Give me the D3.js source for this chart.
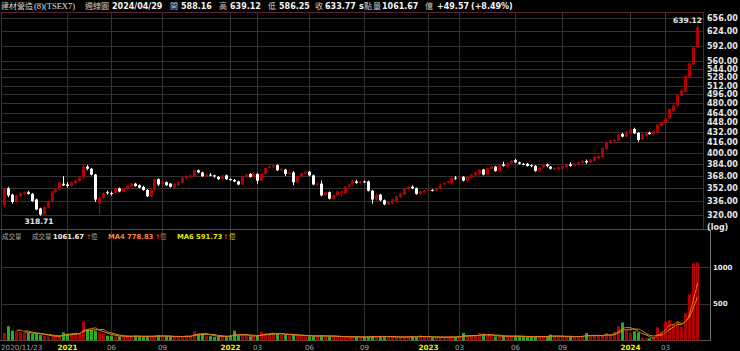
<!DOCTYPE html>
<html>
<head>
<meta charset="utf-8">
<script src="https://cdn.jsdelivr.net/npm/d3@7"></script>
<style>
html, body { margin: 0; padding: 0; background: #000; }
svg { display: block; }
</style>
</head>
<body>
<svg id="chart" width="740" height="351"></svg>
<script>
// weekly candles [open, high, low, close], 2020/11/23 .. 2024/04/29
const ohlc = [
  [331,353,328,351],[352,354,341,343],[344,345,333,335],[335,344,334,343],[342,347,341,346],
  [345,348,344,347],[347,349,344,345],[345,346,335,336],[338,339,325,326],[327,328,318.71,320],
  [320,330,319,329],[328,337,327,336],[336,349,335,348],[347,352,346,351],[350,361,349,360],
  [358,368,355,356],[357,360,353,355],[355,361,354,360],[359,363,358,362],[362,367,361,366],
  [366,384,365,381],[381,383,376,378],[378,379,369,370],[370,371,335,338],[333,342,320,340],
  [340,347,338,346],[347,349,344,346],[346,348,343,345],[346,353,345,352],[352,353,347,348],
  [348,353,347,352],[351,356,350,355],[354,359,353,358],[358,359,354,355],[356,357,352,353],
  [354,355,349,350],[350,351,341,342],[342,351,341,350],[350,365,349,364],[364,365,355,357],
  [357,362,356,361],[360,361,355,356],[358,359,353,354],[353,359,352,358],[356,361,355,360],
  [359,367,358,366],[365,369,364,368],[367,370,366,369],[368,377,367,376],[376,377,372,373],
  [373,374,367,368],[368,371,367,370],[370,372,368,369],[369,370,366,368],[367,368,363,364],
  [364,370,363,369],[369,370,363,364],[364,365,362,363],[363,364,360,361],[361,362,356,357],
  [357,368,356,367],[367,371,366,370],[371,372,366,367],[367,373,366,372],[371,372,358,362],
  [362,372,361,371],[371,380,370,379],[379,382,378,381],[380,385,379,383],[383,384,375,376],
  [376,379,375,378],[377,378,368,371],[371,374,370,373],[373,375,356,360],[360,369,359,368],
  [368,373,367,372],[371,375,370,374],[374,375,368,369],[369,370,356,357],[357,360,355,358],
  [358,362,342,343],[343,348,342,347],[347,348,338,339],[339,344,338,343],[343,349,342,348],
  [346,349,342,348],[346,355,345,354],[354,358,353,357],[357,363,356,362],[361,363,358,359],
  [359,362,358,361],[361,362,359,360],[361,362,348,349],[349,350,333,338],[338,345,337,344],
  [344,345,336,337],[337,338,331,332],[332,336,331,335],[333,339,332,338],[336,343,335,342],
  [341,346,340,345],[344,352,343,351],[351,355,350,354],[354,356,351,352],[352,353,344,345],
  [345,349,344,348],[347,350,346,349],[349,351,348,350],[350,351,348,349],[349,353,348,352],
  [352,358,351,357],[357,360,356,359],[359,362,358,361],[359,367,358,366],[366,368,363,365],
  [365,368,364,367],[367,368,361,362],[362,368,361,367],[366,371,365,370],[369,374,368,373],
  [371,378,370,377],[377,378,369,370],[370,380,369,379],[378,382,377,381],[381,382,374,375],
  [375,384,374,383],[384,388,381,382],[381,387,380,386],[386,390,385,389],[390,392,386,387],
  [387,388,384,385],[385,386,383,384],[385,386,381,382],[383,384,380,382],[382,383,374,375],
  [375,381,374,380],[380,385,379,384],[384,385,380,382],[381,382,377,378],[377,380,376,379],
  [377,381,376,380],[378,383,377,382],[380,385,379,384],[384,387,381,382],[382,386,381,385],
  [384,388,383,387],[386,390,385,389],[389,391,385,387],[387,392,386,391],[389,396,388,395],
  [393,397,392,396],[394,409,393,408],[406,418,405,417],[415,420,414,419],[418,421,416,420],
  [419,429,418,428],[429,431,424,425],[425,434,424,433],[429,438,428,437],[437,439,429,430],
  [431,432,417,420],[421,430,420,429],[426,432,425,431],[431,433,428,429],[429,435,428,434],
  [431,445,430,444],[442,449,441,448],[446,455,445,454],[454,471,453,470],[467,478,466,476],
  [475,496,474,495],[493,505,492,503],[500,531,499,530],[528,556,527,555],[553,590,552,588],
  [588.16,639.12,586.25,633.77]
];

// weekly volume (億)
const volumes = [
  102,195,134,125,111,102,102,93,93,79,
  65,56,56,56,65,111,93,93,93,102,
  254,148,148,134,111,93,65,65,56,56,
  56,60,56,65,56,50,56,65,60,70,
  56,56,50,50,56,60,65,56,125,93,
  93,65,60,50,56,60,56,65,134,65,
  60,70,56,60,65,118,93,93,93,93,
  79,79,70,79,65,70,60,56,60,65,
  70,56,56,60,50,46,50,46,56,50,
  46,46,50,56,60,56,50,46,50,46,
  50,46,56,50,46,70,46,46,40,46,
  46,50,46,50,46,56,102,56,60,56,
  102,93,65,60,56,60,56,65,56,60,
  56,50,50,46,56,60,50,56,79,56,
  50,50,56,50,56,56,60,102,56,60,
  65,70,102,70,120,195,245,150,100,125,
  110,35,30,30,40,180,120,255,275,220,
  255,180,373,631,1050,1061.67
];

const priceTicks = [320,336,352,368,384,400,416,432,448,464,480,496,512,528,544,560,592,624,656];
const volTicks = [500, 1000];
const tickIdx = [16,27,40,57,64,77,91,107,115,129,141,158,167];
const tickText = ['2021','06','09','2022','03','06','09','2023','03','06','09','2024','03'];
const firstDate = '2020/11/23';
const lowIdx = 9;
const highIdx = ohlc.length - 1;

const UP = '#b00000', DOWN = '#ffffff', VUP = '#b00000', VDOWN = '#22b022';
const GRID = '#333333', FRAME = '#5a2232';
const NUM = 'DejaVu Sans, Verdana, sans-serif';
const CJK = '"Noto Sans CJK TC", "Noto Sans CJK SC", sans-serif';

const svg = d3.select('#chart');

let x = d3.scaleLinear().domain([0, ohlc.length - 1]).range([4, 697]);
let y = d3.scaleLog().domain([320, 656]).range([214.5, 17.5]);
let yv = d3.scaleLinear().domain([0, 1000]).range([340.5, 267]);
const px = (i) => Math.round(x(i));

// grid
let grid = svg.append('g').attr('stroke', GRID).attr('stroke-width', 1);
priceTicks.forEach((t) => {
  let yy = Math.round(y(t)) + 0.5;
  grid.append('line').attr('x1', 2).attr('x2', 703).attr('y1', yy).attr('y2', yy);
});
volTicks.forEach((t) => {
  let yy = Math.round(yv(t)) + 0.5;
  grid.append('line').attr('x1', 2).attr('x2', 710).attr('y1', yy).attr('y2', yy);
});
tickIdx.forEach((i) => {
  let xx = px(i) + 0.5;
  grid.append('line').attr('x1', xx).attr('x2', xx).attr('y1', 13).attr('y2', 340);
});

// frames
svg.append('line').attr('x1', 0).attr('x2', 703).attr('y1', 12.5).attr('y2', 12.5).attr('stroke', FRAME);
svg.append('line').attr('x1', 0).attr('x2', 710).attr('y1', 229.5).attr('y2', 229.5).attr('stroke', '#6a3a4a');
svg.append('line').attr('x1', 1.5).attr('x2', 1.5).attr('y1', 12).attr('y2', 341).attr('stroke', FRAME);
svg.append('line').attr('x1', 703.5).attr('x2', 703.5).attr('y1', 12).attr('y2', 229).attr('stroke', FRAME);
svg.append('line').attr('x1', 710.5).attr('x2', 710.5).attr('y1', 230).attr('y2', 341).attr('stroke', '#777');
svg.append('line').attr('x1', 0).attr('x2', 711).attr('y1', 340.5).attr('y2', 340.5).attr('stroke', '#555');

// candles
let candles = svg.append('g');
ohlc.forEach(([o, h, l, c], i) => {
  let col = c >= o ? UP : DOWN;
  let cx = px(i);
  candles.append('line')
    .attr('x1', cx + 0.5).attr('x2', cx + 0.5)
    .attr('y1', y(h)).attr('y2', y(l))
    .attr('stroke', col).attr('stroke-width', 1);
  let top = y(Math.max(o, c)), bot = y(Math.min(o, c));
  candles.append('rect')
    .attr('x', cx - 1).attr('width', 3)
    .attr('y', top).attr('height', Math.max(1, bot - top))
    .attr('fill', col);
});

// volume bars
let vbars = svg.append('g');
volumes.forEach((v, i) => {
  let [o, , , c] = ohlc[i];
  vbars.append('rect')
    .attr('x', px(i) - 1).attr('width', 3)
    .attr('y', yv(v)).attr('height', yv(0) - yv(v))
    .attr('fill', c >= o ? VUP : VDOWN);
});

// volume moving averages
function movingAvg(arr, n) {
  return arr.map((_, i) => i < n - 1 ? null : d3.mean(arr.slice(i - n + 1, i + 1)));
}
let line = d3.line()
  .defined((d) => d !== null)
  .x((d, i) => px(i) + 0.5)
  .y((d) => yv(d))
  .curve(d3.curveMonotoneX);
svg.append('path').attr('d', line(movingAvg(volumes, 6)))
  .attr('fill', 'none').attr('stroke', '#b8a400').attr('stroke-width', 1);
svg.append('path').attr('d', line(movingAvg(volumes, 4)))
  .attr('fill', 'none').attr('stroke', '#f07a2a').attr('stroke-width', 1);

// price axis labels
let axisP = svg.append('g').attr('font-family', NUM).attr('font-weight', 'bold')
  .attr('font-size', 8).attr('fill', '#e8e8e8');
priceTicks.forEach((t) => {
  axisP.append('text').attr('x', 707).attr('y', y(t) + 3).text(t.toFixed(2));
});
axisP.append('text').attr('x', 707).attr('y', 229.5).text('(log)');

// volume axis labels
let axisV = svg.append('g').attr('font-family', NUM).attr('font-weight', 'bold')
  .attr('font-size', 7).attr('fill', '#e8e8e8');
volTicks.forEach((t) => {
  axisV.append('text').attr('x', 713).attr('y', yv(t) + 2.5).text(t);
});

// time axis labels
let axisT = svg.append('g').attr('font-family', NUM).attr('font-size', 7.2);
axisT.append('text').attr('x', 1).attr('y', 350).attr('fill', '#a0a0a0').text(firstDate);
tickIdx.forEach((i, k) => {
  let isYear = tickText[k].length === 4;
  axisT.append('text')
    .attr('x', px(i) + 0.5).attr('y', 350)
    .attr('text-anchor', 'middle')
    .attr('fill', isYear ? '#f0f000' : '#a0a0a0')
    .attr('font-weight', isYear ? 'bold' : 'normal')
    .text(tickText[k]);
});

// high / low annotations
svg.append('text').attr('x', 702).attr('y', 23).attr('text-anchor', 'end')
  .attr('font-family', NUM).attr('font-weight', 'bold').attr('font-size', 7.5)
  .attr('fill', '#e8e8e8').text(ohlc[highIdx][1].toFixed(2));
svg.append('text').attr('x', px(lowIdx) - 1).attr('y', 224).attr('text-anchor', 'middle')
  .attr('font-family', NUM).attr('font-weight', 'bold').attr('font-size', 7.5)
  .attr('fill', '#e8e8e8').text(ohlc[lowIdx][2].toFixed(2));

// header
const header = [
  [1, '建材營造', 'cjk'], [34, '(8)(TSEX7)', 'serif'], [85, '週線圖', 'cjk'],
  [112, '2024/04/29', 'num'], [170, '開', 'cjk'], [181, '588.16', 'num'],
  [219, '高', 'cjk'], [230, '639.12', 'num'], [268, '低', 'cjk'], [279, '586.25', 'num'],
  [315, '收', 'cjk'], [325, '633.77', 'num'], [359, 's', 'num'], [364, '點', 'cjk'],
  [373, '量', 'cjk'], [382, '1061.67', 'num'], [425, '億', 'cjk'],
  [437, '+49.57', 'num'], [471, '(+8.49%)', 'num']
];
let hdr = svg.append('g');
header.forEach(([hx, txt, kind]) => {
  let t = hdr.append('text').attr('x', hx).attr('y', 9).text(txt);
  if (kind === 'cjk') t.attr('font-family', CJK).attr('font-size', 8).attr('fill', '#d0d0d0');
  else if (kind === 'serif') t.attr('font-family', 'Liberation Serif, serif').attr('font-size', 8.5).attr('fill', '#e0e0e0');
  else t.attr('font-family', NUM).attr('font-weight', 'bold').attr('font-size', 8).attr('fill', '#f4f4f4');
});

// volume legend
const legend = [
  [2, '成交量', 'cjk', '#a8a8a8'], [32, '成交量', 'cjk', '#a8a8a8'],
  [53, '1061.67', 'num', '#f0f0f0'], [86, '↑', 'arrow', '#ff2020'], [91, '億', 'cjk', '#a8a8a8'],
  [108, 'MA4 778.83', 'num', '#ff8036'], [155, '↑', 'arrow', '#ff2020'], [160, '億', 'cjk', '#c87030'],
  [177, 'MA6 591.73', 'num', '#e6e600'], [223, '↑', 'arrow', '#ff2020'], [229, '億', 'cjk', '#c8c800']
];
let leg = svg.append('g');
legend.forEach(([lx, txt, kind, col]) => {
  let t = leg.append('text').attr('x', lx).attr('y', 239).attr('fill', col).text(txt);
  if (kind === 'cjk') t.attr('font-family', CJK).attr('font-size', 6.5);
  else if (kind === 'arrow') t.attr('font-family', NUM).attr('font-size', 6.5).attr('font-weight', 'bold');
  else t.attr('font-family', NUM).attr('font-weight', 'bold').attr('font-size', 6.8);
});
</script>
</body>
</html>
